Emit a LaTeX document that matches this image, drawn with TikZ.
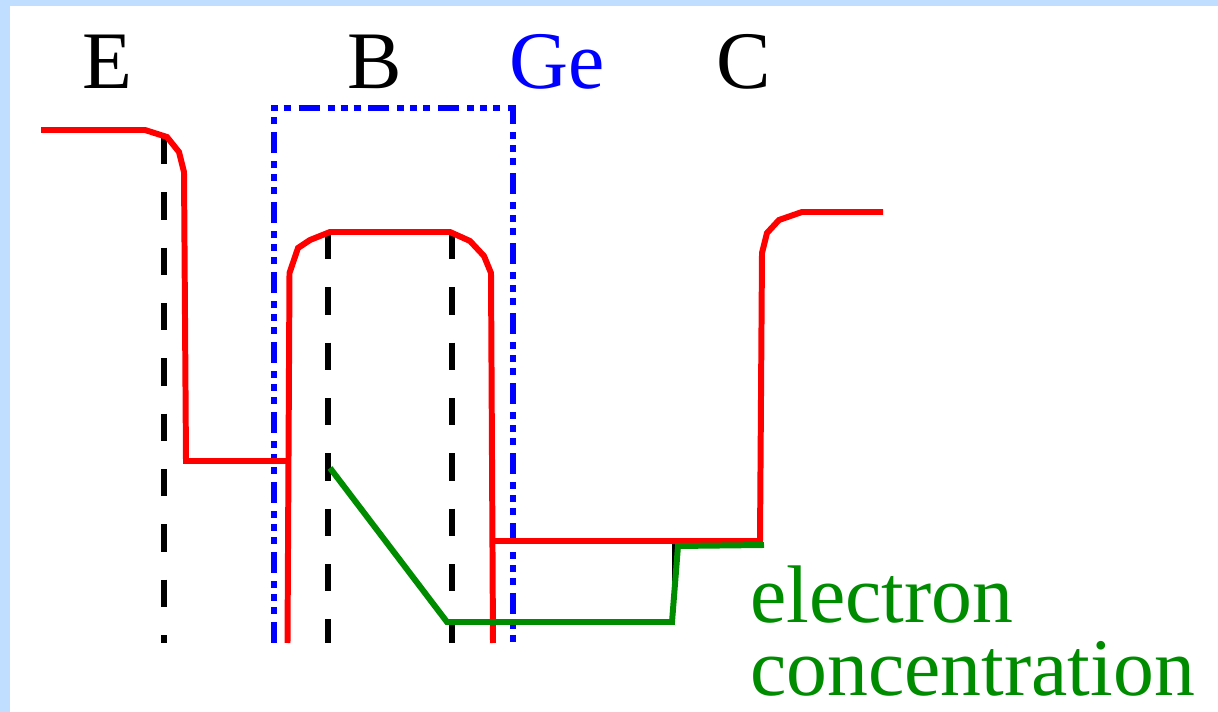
\documentclass[tikz,border=0pt]{standalone}
\usepackage{fontspec}
\setmainfont{Liberation Serif}
\definecolor{BandRed}{RGB}{255,0,0}
\definecolor{GeBlue}{RGB}{0,0,255}
\definecolor{ConcGreen}{RGB}{0,140,0}
\definecolor{FrameBlue}{RGB}{192,222,255}
\tikzset{
  band/.style  = {draw=BandRed, line width=3.4pt},
  guide/.style = {draw=black, line width=3.4pt,
                  dash pattern=on 15.6pt off 15.9pt},
  gebox/.style = {draw=GeBlue, line width=3.4pt,
                  dash pattern=on 11.95pt off 4.55pt on 3.98pt off 3.41pt
                  on 3.98pt off 3.41pt on 3.98pt off 4.55pt},
  conc/.style  = {draw=ConcGreen, line width=3.4pt},
  lbl/.style   = {inner sep=0pt, anchor=base,
                  font=\fontsize{46.5}{42.1}\selectfont}
}

\begin{document}
\begin{tikzpicture}[x=0.02cm, y=-0.02cm]
\useasboundingbox (0,0) rectangle (1218,712);
\fill[FrameBlue] (0,0) rectangle (1218,712);
\fill[white] (10,6) rectangle (1218,712);

% region labels
\node[lbl] (lblE) at (107.5,89) {E};
\node[lbl] (lblB) at (375,89) {B};
\node[lbl, text=GeBlue] (lblGe) at (557,89) {Ge};
\node[lbl] (lblC) at (744,89) {C};

% junction guides
\draw[guide] (164,137) -- (164,643);
\draw[guide] (328,232) -- (328,643);
\draw[guide] (452,232) -- (452,643);
\draw[line width=1.5pt] (673.5,544) -- (673.5,622);

% Ge layer
\draw[gebox] (274,643) -- (274,108) -- (513,108) -- (513,643);

% band edge
\draw[band] (41,130) -- (145,130) -- (167,137) -- (179,152) -- (184,172)
    -- (186,461) -- (289,461);
\draw[band] (287.5,643) -- (289.5,273) -- (298,248) -- (310,240) -- (330,232)
    -- (450,232) -- (470,241) -- (484,256) -- (491,273) -- (493,643);
\draw[band] (493,541) -- (760,541) -- (762,253) -- (767,233) -- (779,220)
    -- (802,212) -- (883,212);

% electron concentration
\draw[conc] (330,468) -- (447,622) -- (672,622) -- (678,546) -- (764,545);
\node[lbl, anchor=base west, align=left, text=ConcGreen] (conc)
    at (750,696) {electron\\concentration};
\end{tikzpicture}
\end{document}
